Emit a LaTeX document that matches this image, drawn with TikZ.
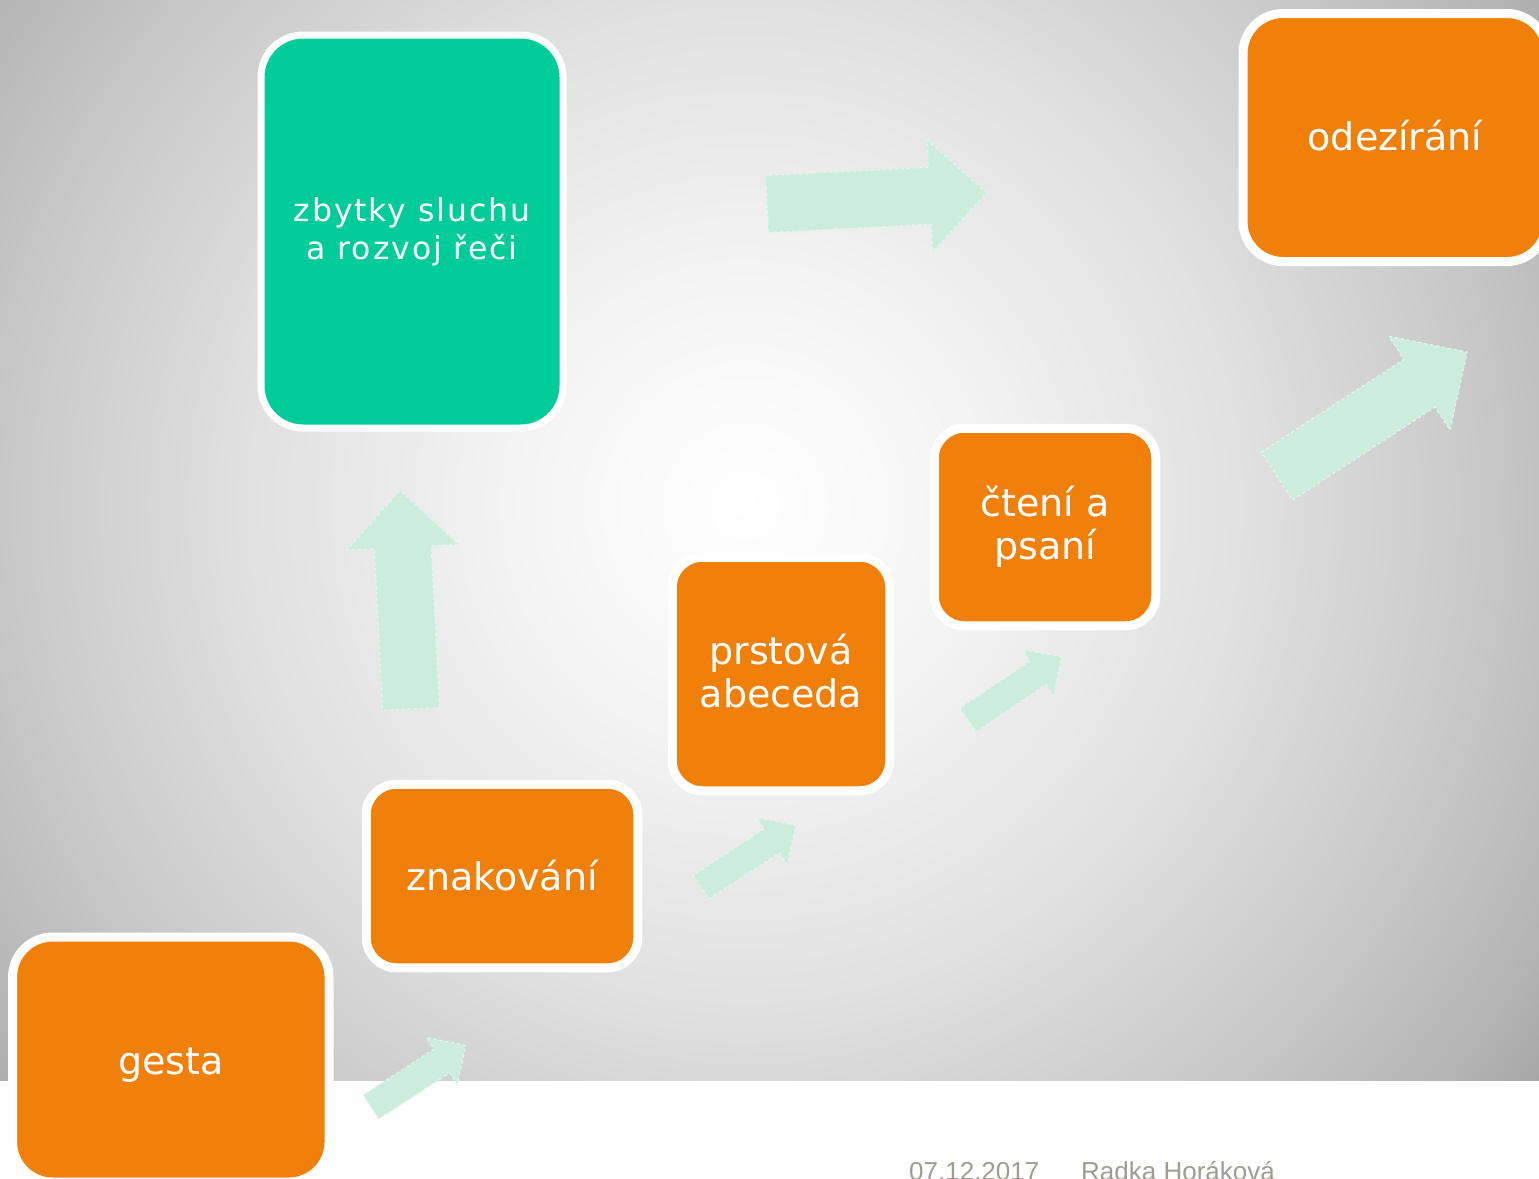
\documentclass[tikz,border=0pt]{standalone}
\usepackage{fontspec}
\setmainfont{DejaVu Sans}
\newfontfamily\footfont{Liberation Sans}
\definecolor{boxorange}{RGB}{240,128,10}
\definecolor{boxgreen}{RGB}{0,204,153}
\definecolor{mint}{RGB}{204,237,222}
\definecolor{mintedge}{RGB}{226,247,238}
\definecolor{footgray}{RGB}{160,156,146}
\pgfdeclareradialshading{bgshade}{\pgfpoint{0bp}{0bp}}{color(0bp)=(white); color(3bp)=(white!98!black); color(6.25bp)=(white!95!black); color(12.5bp)=(white!88!black); color(18.75bp)=(white!78!black); color(22.5bp)=(white!71!black); color(25bp)=(white!64!black); color(50bp)=(white!64!black)}
\tikzset{
  obox/.style={rectangle, rounded corners=#1, fill=boxorange, draw=white, line width=9pt,
    text=white, font=\fontsize{38}{43}\selectfont, align=center, inner sep=0pt},
  obox/.default=30pt,
  gbox/.style={rectangle, rounded corners=42pt, fill=boxgreen, draw=white, line width=7pt,
    text=white, font=\fontsize{31.5}{38}\selectfont\addfontfeature{LetterSpace=6}, align=center, inner sep=0pt},
  footer/.style={font=\footfont\fontsize{26}{30}\selectfont, text=footgray, anchor=base west, inner sep=0pt},
  blockarrowstyle/.style={fill=mint, draw=mintedge, dashed, line width=1.2pt}
}
\newcommand{\shiftline}[2]{\raisebox{#1}[\height][\depth]{#2}}
\newcommand{\blockarrow}[4]{%
  \begin{scope}[shift={#1}, rotate=#2, scale=#4, y=1pt]
    \filldraw[blockarrowstyle] (0,-28.5) -- ({#3-57},-28.5) -- ({#3-57},-56) -- (#3,0)
      -- ({#3-57},56) -- ({#3-57},28.5) -- (0,28.5) -- cycle;
  \end{scope}}
\begin{document}
\begin{tikzpicture}[x=1pt,y=-1pt]
\useasboundingbox (0,0) rectangle (1539,1178);
\clip (0,0) rectangle (1539,1178);
\fill[white] (0,0) rectangle (1539,1178);
\begin{scope}
  \clip (0,0) rectangle (1539,1080);
  \shade[shading=bgshade] (745,505) circle (1000pt);
\end{scope}
% block arrows
\blockarrow{(371,1107)}{33}{226}{0.5}
\blockarrow{(701,887)}{33}{226}{0.5}
\blockarrow{(968,720)}{34}{226}{0.5}
\blockarrow{(411,709)}{92.9}{219}{1}
\blockarrow{(767,204)}{2.9}{220}{1}
\blockarrow{(1277,476)}{33.1}{227}{1}
% boxes
\node[obox=40pt, minimum width=316.5pt, minimum height=245pt] (gesta) at (170.8,1059.5) {\shiftline{-6pt}{gesta}};
\node[obox=30pt, minimum width=271.5pt, minimum height=183.5pt] (znak) at (502,876) {znakování};
\node[obox=30pt, minimum width=217.5pt, minimum height=233.5pt] (prst) at (781,674) {\shiftline{3pt}{prstová}\\\shiftline{3pt}{abeceda}};
\node[obox=30pt, minimum width=221.5pt, minimum height=197.5pt] (cteni) at (1045,527) {čtení a\\psaní};
\node[obox=40pt, minimum width=304pt, minimum height=248pt] (odez) at (1395,137.5) {\shiftline{2pt}{odezírání}};
\node[gbox, minimum width=302pt, minimum height=393pt] (zbyt) at (412,231.5) {zbytky sluchu\\a rozvoj řeči};
% footer
\node[footer] (date) at (909,1180) {07.12.2017};
\node[footer] (author) at (1081,1180) {Radka Horáková};
\end{tikzpicture}
\end{document}
